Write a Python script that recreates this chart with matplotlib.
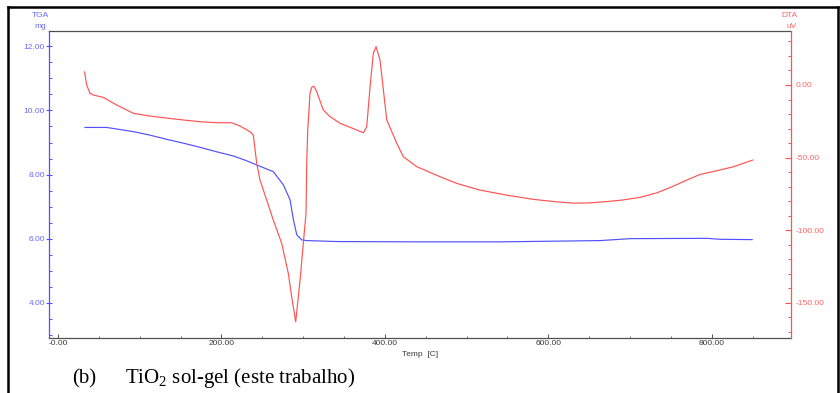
import matplotlib
matplotlib.use("Agg")
import matplotlib.pyplot as plt
from matplotlib.lines import Line2D
from matplotlib.ticker import FixedLocator, MultipleLocator, FixedFormatter

# ---- data ----
tga_temp = [33, 59.6, 92.2, 112.6, 133.0, 153.4, 173.8, 194.2, 214.6, 228.9, 243.2,
            263.5, 275.8, 284.0, 288.0, 292.2, 298.3, 304.4, 341.1, 443.1, 541.0,
            663.4, 700.1, 794.4, 810.3, 849.5]
tga_mg = [9.47, 9.47, 9.34, 9.23, 9.10, 8.98, 8.85, 8.71, 8.58, 8.45, 8.30,
          8.09, 7.68, 7.21, 6.60, 6.12, 5.96, 5.94, 5.91, 5.90, 5.90,
          5.94, 6.00, 6.01, 5.98, 5.97]

dta_temp = [32.5, 35.1, 39.2, 43.2, 55.4, 71.8, 92.2, 112.6, 133.0, 153.4, 173.8,
            194.2, 212.6, 222.8, 235.0, 239.0, 243.2, 247.2, 255.4, 263.5, 273.8,
            281.9, 286.0, 290.9, 296.2, 300.2, 303.5, 304.4, 305.6, 306.4, 308.4,
            310.5, 313.0, 316.6, 324.7, 332.9, 345.2, 365.6, 373.7, 377.8, 381.9,
            385.9, 389.2, 394.1, 402.3, 414.6, 422.6, 439.1, 467.6, 488.0, 516.5,
            549.2, 581.8, 610.4, 630.7, 651.2, 671.6, 690.0, 712.4, 732.8, 753.1,
            769.5, 785.8, 806.2, 826.6, 850.3]
dta_uv = [9.0, 0.0, -5.7, -6.9, -8.5, -13.8, -19.5, -21.4, -22.8, -24.1, -25.3,
          -26.0, -26.0, -28.3, -32.2, -34.5, -54.0, -65.5, -79.3, -93.1, -109.2,
          -129.9, -146.0, -163.2, -134.5, -109.2, -88.3, -53.8, -31.0, -24.1, -5.7,
          -1.5, -0.8, -4.6, -17.2, -21.8, -26.4, -31.0, -32.9, -28.8, -1.2,
          21.9, 26.4, 17.2, -24.1, -40.2, -49.4, -56.3, -63.2, -67.8, -72.4,
          -75.9, -78.8, -80.5, -81.4, -81.2, -80.3, -79.3, -77.4, -74.3, -69.7,
          -65.5, -61.6, -59.1, -56.3, -51.7]

x_ticks = [0, 200, 400, 600, 800]
x_tick_labels = ["-0.00", "200.00", "400.00", "600.00", "800.00"]
tga_ticks = [4, 6, 8, 10, 12]
tga_tick_labels = ["4.00", "6.00", "8.00", "10.00", "12.00"]
dta_ticks = [-150, -100, -50, 0]
dta_tick_labels = ["-150.00", "-100.00", "-50.00", "0.00"]

caption_tag = "(b)"
caption_text = r"TiO$_\mathregular{2}$ sol-gel (este trabalho)"

# ---- style ----
BLUE = "#5050ff"
BLUE_TXT = "#6a6aff"
RED = "#ff5252"
RED_TXT = "#ff6464"
GRAY = "#505050"
W, H = 840, 393

plt.rcParams["font.family"] = ["Liberation Sans", "DejaVu Sans"]

fig = plt.figure(figsize=(8.4, 3.93), dpi=100)
fig.patch.set_facecolor("white")

ax = fig.add_axes([49 / W, 1 - 338 / H, (791 - 49) / W, (338 - 31) / H])
ax2 = ax.twinx()

ax.plot(tga_temp, tga_mg, color=BLUE, lw=0.85)
ax2.plot(dta_temp, dta_uv, color=RED, lw=0.85)

ax.set_xlim(-11, 897)
ax.set_ylim(2.9, 12.48)
ax2.set_ylim(-174.3, 37.2)

# spines
ax.spines["left"].set_color(BLUE)
ax.spines["top"].set_color(GRAY)
ax.spines["bottom"].set_color(GRAY)
ax.spines["right"].set_visible(False)
ax2.spines["right"].set_color(RED)
ax2.spines["left"].set_visible(False)
ax2.spines["top"].set_visible(False)
ax2.spines["bottom"].set_visible(False)
for a in (ax, ax2):
    for s in a.spines.values():
        s.set_linewidth(0.9)

# x ticks
ax.xaxis.set_major_locator(FixedLocator(x_ticks))
ax.xaxis.set_major_formatter(FixedFormatter(x_tick_labels))
ax.xaxis.set_minor_locator(MultipleLocator(50))
ax.tick_params(axis="x", which="major", direction="in", length=3, width=0.7,
               color=GRAY, labelcolor="#3a3a3a", labelsize=6, pad=1.5, top=False)
ax.tick_params(axis="x", which="minor", direction="in", length=1.5, width=0.6,
               color=GRAY, top=False)

# left ticks
ax.yaxis.set_major_locator(FixedLocator(tga_ticks))
ax.yaxis.set_major_formatter(FixedFormatter(tga_tick_labels))
ax.yaxis.set_minor_locator(MultipleLocator(0.5))
ax.tick_params(axis="y", which="major", direction="inout", length=5, width=0.8,
               color=BLUE, labelcolor=BLUE_TXT, labelsize=6, pad=0.5)
ax.tick_params(axis="y", which="minor", direction="in", length=2, width=0.7,
               color=BLUE)

# right ticks
ax2.yaxis.set_major_locator(FixedLocator(dta_ticks))
ax2.yaxis.set_major_formatter(FixedFormatter(dta_tick_labels))
ax2.yaxis.set_minor_locator(MultipleLocator(10))
ax2.tick_params(axis="y", which="major", direction="in", length=4, width=0.8,
                color=RED, labelcolor=RED_TXT, labelsize=6, pad=3)
ax2.tick_params(axis="y", which="minor", direction="in", length=2, width=0.7,
                color=RED)

# axis titles
fig.text(40.5 / W, 1 - 15.5 / H, "TGA", color=BLUE_TXT, fontsize=6,
         ha="center", va="center")
fig.text(40.5 / W, 1 - 26 / H, "mg", color=BLUE_TXT, fontsize=6,
         ha="center", va="center")
fig.text(789 / W, 1 - 15.5 / H, "DTA", color=RED_TXT, fontsize=6,
         ha="center", va="center")
fig.text(792 / W, 1 - 26 / H, "uV", color=RED_TXT, fontsize=6,
         ha="center", va="center")
fig.text(420 / W, 1 - 355 / H, "Temp  [C]", color="#3a3a3a", fontsize=6,
         ha="center", va="center")

# caption
fig.text(72 / W, 1 - 383 / H, caption_tag, fontsize=15,
         family=["Liberation Serif", "DejaVu Serif"], ha="left", va="baseline")
fig.text(125 / W, 1 - 383 / H, caption_text, fontsize=15,
         family=["Liberation Serif", "DejaVu Serif"], ha="left", va="baseline")

# black frame
fl = 8 / W
fr = 837.5 / W
ft = 1 - 6.5 / H
for xs, ys in (([fl, fl], [0, ft]), ([fl, fr], [ft, ft]), ([fr, fr], [ft, 0])):
    fig.add_artist(Line2D(xs, ys, color="black", lw=1.8,
                          transform=fig.transFigure, solid_capstyle="projecting"))

fig.savefig("out.png", dpi=100, facecolor="white")
